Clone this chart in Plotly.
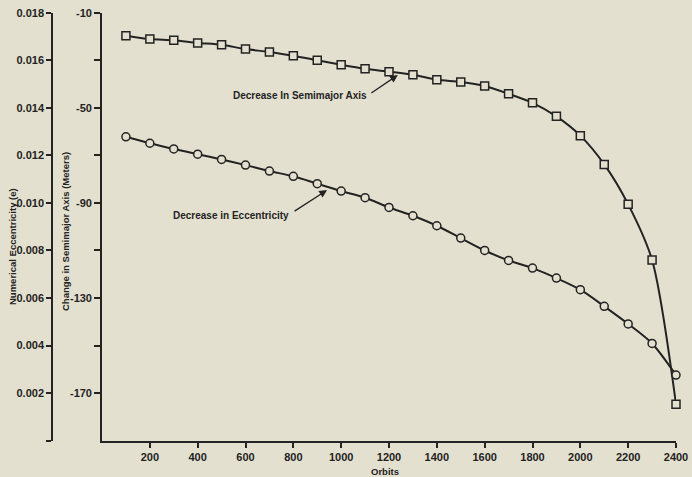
import plotly.graph_objects as go

W, H = 692, 477

orbits = [100, 200, 300, 400, 500, 600, 700, 800, 900, 1000, 1100, 1200,
          1300, 1400, 1500, 1600, 1700, 1800, 1900, 2000, 2100, 2200, 2300, 2400]
semimajor_change = [-19.7, -21.1, -21.6, -22.7, -23.5, -25.3, -26.5, -28.1, -30.0, -31.9, -33.6, -34.8,
                    -36.1, -38.2, -39.1, -40.8, -44.1, -47.9, -53.6, -61.7, -73.8, -90.6, -114.0, -174.7]
eccentricity = [0.01278, 0.01251, 0.01227, 0.01205, 0.01183, 0.01159, 0.01134, 0.01112, 0.01081, 0.01050,
                0.01022, 0.00981, 0.00946, 0.00904, 0.00852, 0.00800, 0.00758, 0.00726, 0.00684, 0.00635,
                0.00565, 0.00491, 0.00409, 0.00276]

x_ticks = [200, 400, 600, 800, 1000, 1200, 1400, 1600, 1800, 2000, 2200, 2400]
semimajor_ticks = [-10, -50, -90, -130, -170]
semimajor_labels = ["-10", "-50", "-90", "-130", "-170"]
semimajor_minor = [-30, -70, -110, -150]
ecc_ticks = [0.0, 0.002, 0.004, 0.006, 0.008, 0.010, 0.012, 0.014, 0.016, 0.018]
ecc_labels = ["", "0.002", "0.004", "0.006", "0.008", "0.010", "0.012", "0.014", "0.016", "0.018"]

BG = "#e3e0cf"
INK = "#232323"
FONT = "Liberation Sans"


def px(x):
    return x / W


def py(y):
    return 1 - y / H


fig = go.Figure()
fig.add_trace(go.Scatter(
    x=orbits, y=semimajor_change, mode="lines+markers", yaxis="y", cliponaxis=False,
    line=dict(color=INK, width=2, shape="spline", smoothing=0.8),
    marker=dict(symbol="square", size=8, color=BG, line=dict(color=INK, width=1.5)),
    showlegend=False, hoverinfo="skip",
))
fig.add_trace(go.Scatter(
    x=orbits, y=eccentricity, mode="lines+markers", yaxis="y2", cliponaxis=False,
    line=dict(color=INK, width=2, shape="spline", smoothing=0.8),
    marker=dict(symbol="circle", size=8, color=BG, line=dict(color=INK, width=1.5)),
    showlegend=False, hoverinfo="skip",
))

tickfont = dict(family=FONT, size=11, color=INK, weight="bold")
ydom = [1 - 440.7 / H, 1 - 12.7 / H]

fig.update_layout(
    template="none",
    width=W, height=H,
    margin=dict(l=0, r=0, t=0, b=0),
    paper_bgcolor=BG, plot_bgcolor=BG,
    xaxis=dict(
        domain=[px(102), px(676)], range=[0, 2400],
        tickvals=x_ticks, ticks="outside", ticklen=5, tickwidth=1.5, tickcolor=INK,
        showline=True, linecolor=INK, linewidth=1.6, showgrid=False, zeroline=False,
        tickfont=tickfont, automargin=False, anchor="y",
    ),
    yaxis=dict(
        domain=ydom, range=[-190, -10],
        tickvals=semimajor_ticks, ticktext=semimajor_labels,
        ticks="outside", ticklen=6, tickwidth=1.5, tickcolor=INK,
        minor=dict(tickvals=semimajor_minor, ticks="outside", ticklen=6, tickwidth=1.5, tickcolor=INK),
        showline=True, linecolor=INK, linewidth=1.6, showgrid=False, zeroline=False,
        tickfont=tickfont, automargin=False, anchor="x",
    ),
    yaxis2=dict(
        domain=ydom, range=[0, 0.018], overlaying="y", anchor="free", position=px(52), side="left",
        tickvals=ecc_ticks, ticktext=ecc_labels, ticks="outside", ticklen=5, tickwidth=1.5, tickcolor=INK,
        showline=True, linecolor=INK, linewidth=1.6, showgrid=False, zeroline=False,
        tickfont=tickfont, automargin=False,
    ),
)

annfont = dict(family=FONT, size=10, color=INK, weight="bold")
titlefont = dict(family=FONT, size=9.5, color=INK, weight="bold")

fig.add_annotation(x=px(300), y=py(95), xref="paper", yref="paper", text="Decrease In Semimajor Axis",
                   showarrow=False, font=annfont, xanchor="center", yanchor="middle")
fig.add_annotation(x=px(230.5), y=py(215), xref="paper", yref="paper", text="Decrease in Eccentricity",
                   showarrow=False, font=annfont, xanchor="center", yanchor="middle")

# arrows
fig.add_annotation(x=1237, y=-36.2, xref="x", yref="y", text="", showarrow=True,
                   arrowhead=2, arrowsize=1.2, arrowwidth=1.3, arrowcolor=INK, ax=-28, ay=19)
fig.add_annotation(x=941, y=0.01054, xref="x", yref="y2", text="", showarrow=True,
                   arrowhead=2, arrowsize=1.2, arrowwidth=1.3, arrowcolor=INK, ax=-34, ay=22)

fig.add_annotation(x=px(12), y=py(247), xref="paper", yref="paper", text="Numerical Eccentricity (e)",
                   showarrow=False, textangle=-90, font=titlefont, xanchor="center", yanchor="middle")
fig.add_annotation(x=px(65), y=py(232), xref="paper", yref="paper", text="Change in Semimajor Axis (Meters)",
                   showarrow=False, textangle=-90, font=titlefont, xanchor="center", yanchor="middle")
fig.add_annotation(x=px(385), y=py(471), xref="paper", yref="paper", text="Orbits",
                   showarrow=False, font=titlefont, xanchor="center", yanchor="middle")

fig.write_html("out.html", config={"displayModeBar": False},
               post_script="document.body.style.margin='0';document.body.style.background='" + BG + "';")
